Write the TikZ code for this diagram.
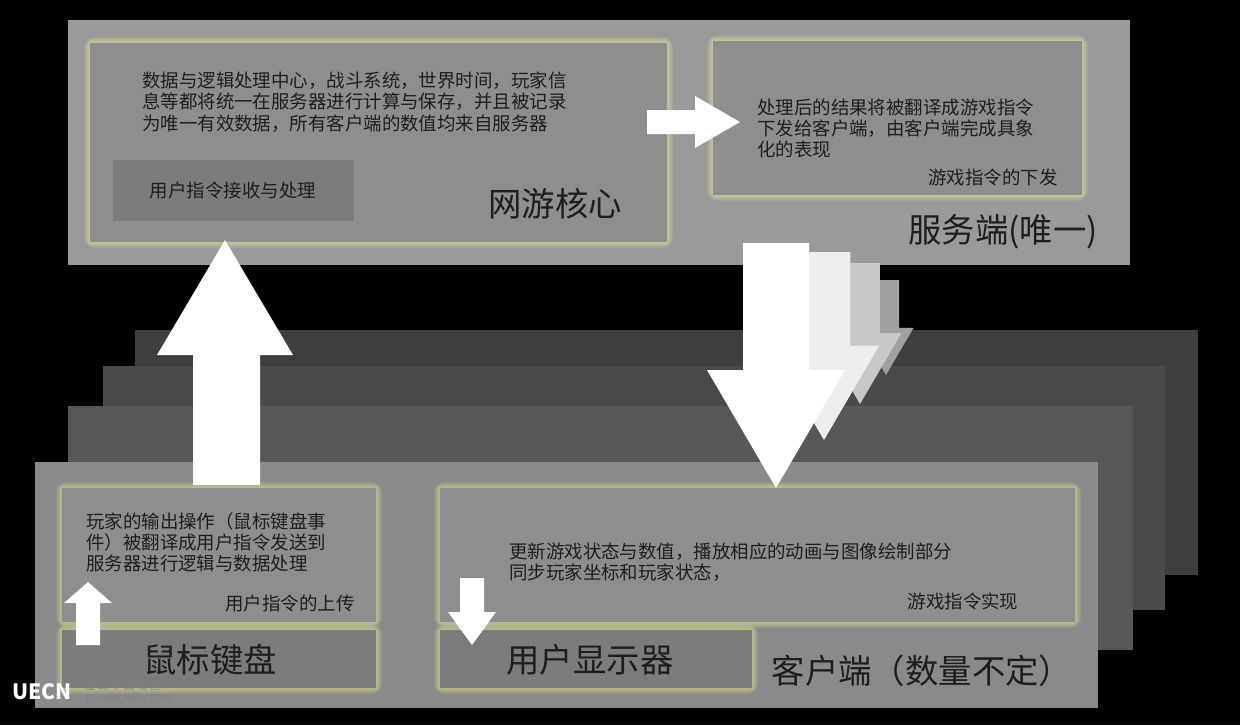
\documentclass[tikz,border=0pt]{standalone}
\usepackage{fontspec}
\setmainfont{Noto Sans CJK SC}
\usetikzlibrary{calc}
\definecolor{serverbg}{HTML}{9A9A9A}
\definecolor{panelbg}{HTML}{8E8E8E}
\definecolor{subbg}{HTML}{7C7C7C}
\definecolor{clientA}{HTML}{3E3E3E}
\definecolor{clientB}{HTML}{4A4A4A}
\definecolor{clientC}{HTML}{575757}
\definecolor{clientD}{HTML}{8A8A8A}
\definecolor{inktext}{HTML}{1E1E1E}
\definecolor{shadeA}{HTML}{A0A0A0}
\definecolor{shadeB}{HTML}{C8C8C8}
\definecolor{shadeC}{HTML}{EEEEEE}
\tikzset{
  panel/.style={fill=panelbg},
  subpanel/.style={fill=subbg},
  body/.style={anchor=north west,align=left,font=\fontsize{10.5}{12}\selectfont,text=inktext},
  tag/.style={font=\fontsize{10.5}{12}\selectfont,text=inktext},
  big/.style={font=\fontsize{19}{22}\selectfont,text=inktext},
}
% soft yellowish glow behind a box: corner, corner
\newcommand{\glowbox}[2]{%
  \foreach \g in {1,...,6}{
    \fill[yellow!40!white,opacity=0.09,rounded corners=\g pt]
      ($(#1)+(-\g,-\g)$) rectangle ($(#2)+(\g,\g)$);
  }}
% down block arrow: tip x, tip y, top y, size, colour
\newcommand{\blockdown}[5]{%
  \fill[#5] (#1,#2) -- ++(69*#4,-118*#4) -- ++(-36*#4,0) -- (#1+33*#4,#3) -- (#1-33*#4,#3)
    -- ($(#1-33*#4,#2)+(0,-118*#4)$) -- ++(-36*#4,0) -- cycle;}
\begin{document}
\begin{tikzpicture}[x=0.02cm,y=-0.02cm]
  \useasboundingbox (0,0) rectangle (1240,725);
  \fill[black] (0,0) rectangle (1240,725);
  %
  % Server side
  \fill[serverbg] (68,20) rectangle (1130,265);
  \glowbox{90,43}{667,242}
  \glowbox{713,41}{1082,195}
  \fill[panel] (90,43) rectangle (667,242);
  \fill[panel] (713,41) rectangle (1082,195);
  \fill[subpanel] (113,160) rectangle (354,221);
  \node[body] (core) at (136,66) {数据与逻辑处理中心，战斗系统，世界时间，玩家信\\息等都将统一在服务器进行计算与保存，并且被记录\\为唯一有效数据，所有客户端的数值均来自服务器};
  \node[tag] (recv) at (233,190) {用户指令接收与处理};
  \node[big] (coretitle) at (555,204) {网游核心};
  \node[body] (send) at (751,93) {处理后的结果将被翻译成游戏指令\\下发给客户端，由客户端完成具象\\化的表现};
  \node[tag] (sendtag) at (993,177) {游戏指令的下发};
  \node[big] (server) at (1003,232) {服务端(唯一)};
  % right arrow
  \fill[white] (647,110) -- (695,110) -- (695,96) -- (740,122) -- (695,148) -- (695,134) -- (647,134) -- cycle;
  %
  % Client stack
  \fill[clientA] (135,330) rectangle (1198,575);
  \fill[clientB] (103,366) rectangle (1165,610);
  \fill[clientC] (68,406) rectangle (1133,650);
  \fill[clientD] (35,462) rectangle (1098,708);
  \glowbox{62,488}{376,622}
  \glowbox{440,488}{1075,622}
  \glowbox{62,630}{376,688}
  \glowbox{440,630}{752,688}
  \fill[panel] (62,488) rectangle (376,622);
  \fill[panel] (440,488) rectangle (1075,622);
  \fill[subpanel] (62,630) rectangle (376,688);
  \fill[subpanel] (440,630) rectangle (752,688);
  \node[body] (upload) at (80,506) {玩家的输出操作（鼠标键盘事\\件）被翻译成用户指令发送到\\服务器进行逻辑与数据处理};
  \node[tag] (uptag) at (290,603) {用户指令的上传};
  \node[body] (update) at (503,537) {更新游戏状态与数值，播放相应的动画与图像绘制部分\\同步玩家坐标和玩家状态，};
  \node[tag] (impltag) at (963,601) {游戏指令实现};
  \node[big] (keys) at (210,660) {鼠标键盘};
  \node[big] (screen) at (590,660) {用户显示器};
  \node[big] (client) at (922,671) {客户端（数量不定）};
  % small arrows
  \fill[white] (88,582) -- (112,603) -- (100,603) -- (100,645) -- (76,645) -- (76,603) -- (64,603) -- cycle;
  \fill[white] (472,645) -- (496,612) -- (484,612) -- (484,578) -- (460,578) -- (460,612) -- (448,612) -- cycle;
  %
  % big up arrow
  \fill[white] (225,240) -- (293,355) -- (260,355) -- (260,485) -- (193,485) -- (193,355) -- (157,355) -- cycle;
  % down arrows, back to front
  \blockdown{886}{375}{280}{0.4}{shadeA}
  \blockdown{860}{404}{263}{0.6}{shadeB}
  \blockdown{824}{440}{252}{0.8}{shadeC}
  \blockdown{776}{488}{243}{1}{white}
  %
  % watermark
  \node[anchor=west,text=white,font=\bfseries\fontsize{12}{12}\selectfont] (logo) at (6,692) {UECN};
  \node[anchor=west,text=gray,font=\fontsize{6}{7.5}\selectfont,align=left,inner sep=1pt] (site) at ([xshift=3pt]logo.east) {虚 幻 中 国 社 区\\UnrealChina.COM};
\end{tikzpicture}
\end{document}
